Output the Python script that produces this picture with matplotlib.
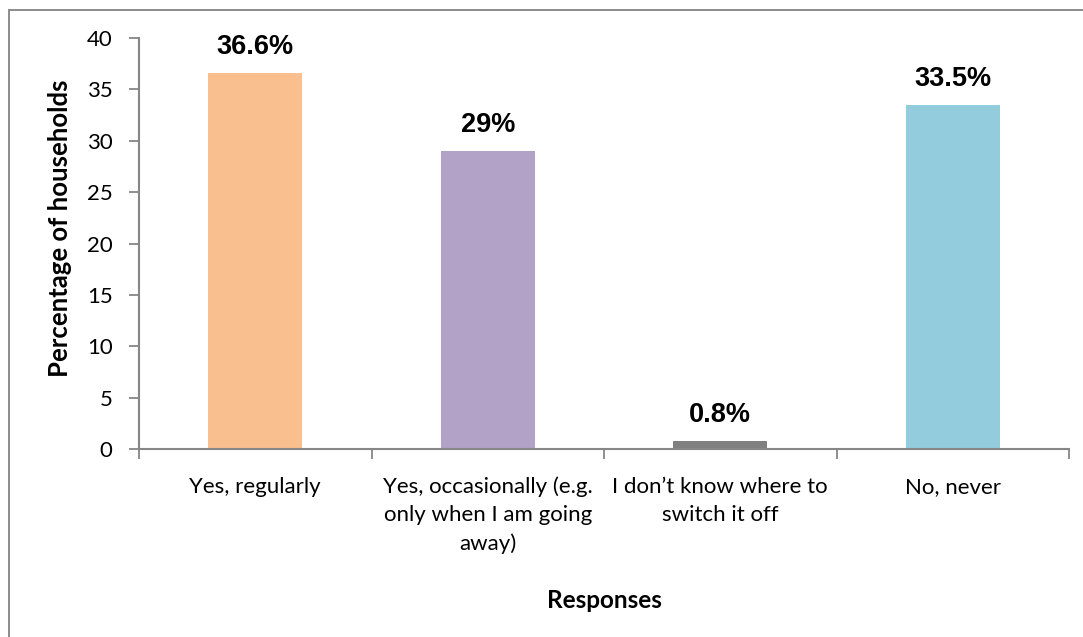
import matplotlib
matplotlib.use("Agg")
import matplotlib.pyplot as plt
from matplotlib.patches import Rectangle

categories = [
    "Yes, regularly",
    "Yes, occasionally (e.g.\nonly when I am going\naway)",
    "I don\u2019t know where to\nswitch it off",
    "No, never",
]
values = [36.6, 29, 0.8, 33.5]
colors = ["#F9BF8F", "#B2A2C7", "#808080", "#93CDDD"]
yticks = [0, 5, 10, 15, 20, 25, 30, 35, 40]

W, H = 1083, 637
fig = plt.figure(figsize=(W / 100, H / 100), dpi=100)
ax = fig.add_axes([139 / W, 1 - 449 / H, (1069 - 139) / W, (449 - 38) / H])

# outer chart frame (top and left edges fall inside the canvas)
fig.patches.append(Rectangle((9 / W, -0.2), 1.3, 1 - 10 / H + 0.2,
                             transform=fig.transFigure, fill=False,
                             edgecolor="#8C8C8C", linewidth=1.4))

x = list(range(len(categories)))
bars = ax.bar(x, values, width=0.405, color=colors, zorder=2)

for xi, v in zip(x, values):
    ax.text(xi, v + 2.5, f"{v:g}%", ha="center", va="center",
            fontsize=19.5, fontweight="bold", family="Liberation Sans",
            color="#000000")

ax.set_xlim(-0.5, len(categories) - 0.5)
ax.set_ylim(0, 40)
ax.set_yticks(yticks)
ax.set_yticklabels([str(t) for t in yticks], family="Lato", fontsize=16)

ax.set_xticks(x)
ax.set_xticklabels(categories, family="Lato", fontsize=16, linespacing=1.5)
ax.set_xticks([i - 0.5 for i in range(len(categories) + 1)], minor=True)
ax.tick_params(axis="x", which="major", length=0, pad=20)
ax.tick_params(axis="x", which="minor", length=7, width=1.3, color="#868686",
               direction="out")
ax.tick_params(axis="y", length=7, width=1.3, color="#868686", pad=12)

for side in ["top", "right"]:
    ax.spines[side].set_visible(False)
for side in ["left", "bottom"]:
    ax.spines[side].set_color("#868686")
    ax.spines[side].set_linewidth(1.5)

fig.text(60 / W, 1 - 228 / H, "Percentage of households", rotation=90,
         ha="center", va="center", family="Lato", fontweight="bold",
         fontsize=18.5)
fig.text(604 / W, 1 - 600 / H, "Responses", ha="center", va="center",
         family="Lato", fontweight="bold", fontsize=17.5)

fig.savefig("out.png", dpi=100, facecolor="white")
